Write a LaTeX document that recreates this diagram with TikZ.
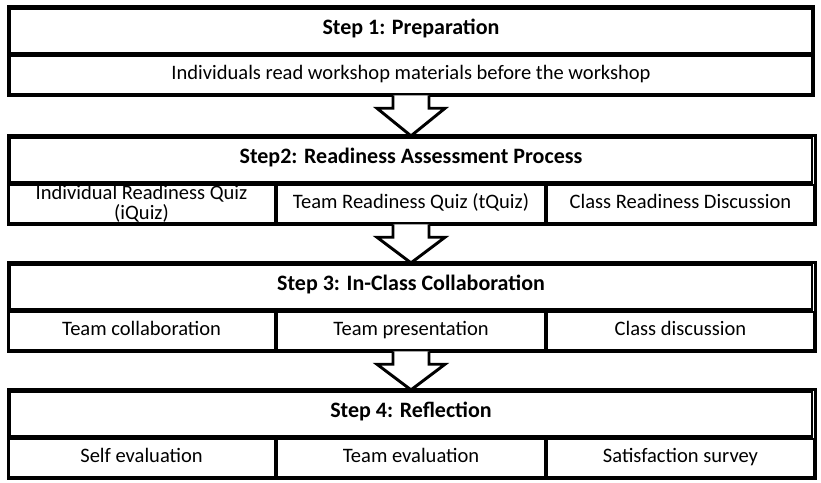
\documentclass[tikz,border=0pt]{standalone}
\usepackage{fontspec}
\setmainfont{Carlito}
\usetikzlibrary{positioning, calc}
\tikzset{
    head/.style={draw, line width=2.2pt, minimum width=601.5pt, minimum height=34pt,
        inner sep=0pt, text height=1.6ex, text depth=.4ex,
        font=\fontsize{16.5}{18}\selectfont\bfseries},
    full/.style={draw, line width=1.6pt, minimum width=601.5pt, minimum height=28.5pt,
        inner sep=0pt, text height=1.6ex, text depth=.4ex,
        font=\fontsize{15.4}{17}\selectfont},
    cell/.style={draw, line width=1.6pt, minimum width=200.5pt, minimum height=28.5pt,
        inner sep=0pt, text height=1.6ex, text depth=.4ex,
        font=\fontsize{15.4}{17}\selectfont},
    arrowline/.style={draw, line width=2.2pt, fill=white, line join=miter}
}
\newcommand\downbox[2]{%
  \draw[arrowline] ($(#1.south)+(-18,0)$) -- ++(0,13) -- ++(-16,0) -- (#2.north)
     -- ($(#1.south)+(34,13)$) -- ++(-16,0) -- ++(0,-13);}
\begin{document}
\begin{tikzpicture}[x=0.75pt, y=-0.75pt]
\useasboundingbox (0,0) rectangle (821,482);
% step 1
\node[head] (h1) at (411,31) {Step 1: Preparation};
\node[full, below=0pt of h1] (r1) {Individuals read workshop materials before the workshop};
\draw[line width=2.2pt] (h1.north west) rectangle (r1.south east);
% step 2
\node[head] (h2) at (411,160) {Step2: Readiness Assessment Process};
\node[cell, below=0pt of h2] (b2) {Team Readiness Quiz (tQuiz)};
\node[cell, left=0pt of b2, align=center, text height=, text depth=,
      font=\fontsize{15.4}{15}\selectfont] (a2) {Individual Readiness Quiz\\(iQuiz)};
\node[cell, right=0pt of b2] (c2) {Class Readiness Discussion};
\draw[line width=2.2pt] (h2.north west) rectangle (c2.south east);
% step 3
\node[head] (h3) at (411,287) {Step 3: In-Class Collaboration};
\node[cell, below=0pt of h3] (b3) {Team presentation};
\node[cell, left=0pt of b3] (a3) {Team collaboration};
\node[cell, right=0pt of b3] (c3) {Class discussion};
\draw[line width=2.2pt] (h3.north west) rectangle (c3.south east);
% step 4
\node[head] (h4) at (411,414) {Step 4: Reflection};
\node[cell, below=0pt of h4] (b4) {Team evaluation};
\node[cell, left=0pt of b4] (a4) {Self evaluation};
\node[cell, right=0pt of b4] (c4) {Satisfaction survey};
\draw[line width=2.2pt] (h4.north west) rectangle (c4.south east);
% arrows
\downbox{r1}{h2}
\downbox{b2}{h3}
\downbox{b3}{h4}
\end{tikzpicture}
\end{document}
